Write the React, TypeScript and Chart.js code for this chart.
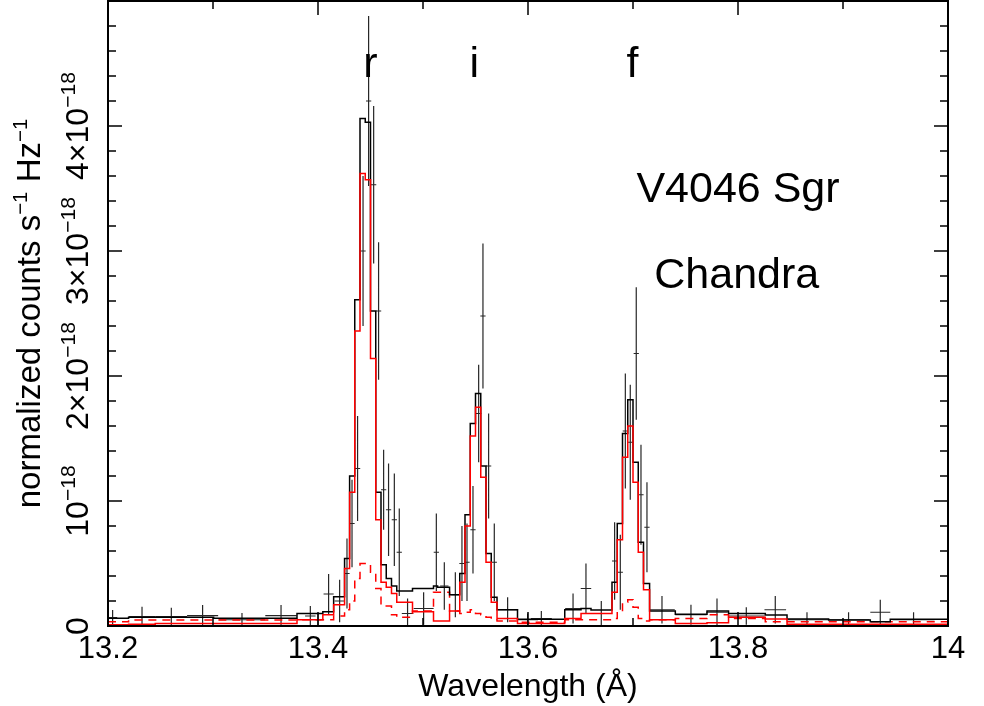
import React, { useEffect, useRef } from "react";
import { Chart, registerables } from "chart.js";
Chart.register(...registerables);

const FONT = "'Liberation Sans', Arial, Helvetica, sans-serif";

// axis ranges (flux in units of 1e-18)
const X_MIN = 13.2;
const X_MAX = 14.0;
const Y_MIN = 0;
const Y_MAX = 5;
const X_MAJOR_TICKS = [13.2, 13.4, 13.6, 13.8, 14.0];
const X_TICK_LABELS = ["13.2", "13.4", "13.6", "13.8", "14"];
const X_MINOR_TICKS = [13.3, 13.5, 13.7, 13.9];
const Y_MAJOR_TICKS = [0, 1, 2, 3, 4, 5];
const Y_MINOR_STEP = 0.2;
const Y_LABEL_VALUES = [0, 1, 2, 3, 4];
const Y_LABEL_BASES = ["0", "10", "2×10", "3×10", "4×10"];
const Y_LABEL_EXPS = ["", "−18", "−18", "−18", "−18"];
const X_TITLE = "Wavelength (Å)";
const Y_TITLE_PARTS: [string, boolean][] = [
  ["normalized counts s", false],
  ["−1", true],
  [" Hz", false],
  ["−1", true],
];

// annotations: text, wavelength, flux (baseline position)
const NOTE_TEXTS = ["r", "i", "f", "V4046 Sgr", "Chandra"];
const NOTE_X = [13.4498, 13.5489, 13.6994, 13.8, 13.7988];
const NOTE_Y = [4.392, 4.392, 4.392, 3.392, 2.704];

// model histogram bin edges (Å)
const BIN_EDGES = [
  13.2, 13.2196, 13.245, 13.3006, 13.38, 13.4046, 13.4149, 13.4253, 13.4301, 13.435,
  13.44, 13.445, 13.45, 13.455, 13.46, 13.465, 13.47, 13.475, 13.49, 13.51,
  13.5139, 13.5253, 13.535, 13.54, 13.545, 13.55, 13.555, 13.56, 13.565, 13.5705,
  13.59, 13.635, 13.6505, 13.66, 13.68, 13.685, 13.69, 13.695, 13.7, 13.705,
  13.71, 13.7158, 13.7403, 13.7705, 13.791, 13.826, 13.8467, 13.8863, 13.926, 13.945,
  13.9905, 14.0,
];

// total model (black)
const MODEL_TOTAL = [
  0.062, 0.07, 0.07, 0.062, 0.1, 0.115, 0.234, 0.54, 1.2, 2.61,
  4.06, 4.03, 2.52, 1.07, 0.49, 0.38, 0.32, 0.28, 0.3, 0.32,
  0.31, 0.25, 0.42, 0.89, 1.62, 1.86, 1.28, 0.58, 0.23, 0.13,
  0.054, 0.13, 0.14, 0.128, 0.35, 0.82, 1.54, 1.81, 1.31, 0.67,
  0.34, 0.12, 0.094, 0.12, 0.1, 0.088, 0.056, 0.048, 0.035, 0.054,
  0.054,
];

// red solid model
const MODEL_RED = [
  0.01, 0.015, 0.02, 0.02, 0.05, 0.09, 0.17, 0.46, 1.07, 2.36,
  3.62, 3.57, 2.14, 0.85, 0.35, 0.31, 0.26, 0.19, 0.115, 0.04,
  0.04, 0.12, 0.35, 0.8, 1.52, 1.75, 1.19, 0.51, 0.19, 0.06,
  0.02, 0.06, 0.1, 0.1, 0.27, 0.69, 1.35, 1.6, 1.15, 0.59,
  0.29, 0.05, 0.02, 0.026, 0.07, 0.056, 0.014, 0.014, 0.014, 0.014,
  0.014,
];

// red dashed model component
const MODEL_DASHED = [
  0.035, 0.048, 0.048, 0.048, 0.05, 0.05, 0.08, 0.13, 0.2, 0.38,
  0.5, 0.5, 0.43, 0.3, 0.17, 0.16, 0.09, 0.07, 0.12, 0.27,
  0.27, 0.12, 0.1, 0.11, 0.13, 0.1, 0.09, 0.07, 0.05, 0.04,
  0.03, 0.05, 0.05, 0.05, 0.06, 0.115, 0.19, 0.21, 0.15, 0.06,
  0.04, 0.05, 0.06, 0.09, 0.06, 0.035, 0.035, 0.035, 0.035, 0.035,
  0.035,
];

// data points
const DATA_WAVE = [
  13.2044, 13.2324, 13.2603, 13.2901, 13.3276, 13.3648, 13.3927, 13.4, 13.4101, 13.4206,
  13.4276, 13.4324, 13.4377, 13.4429, 13.4482, 13.453, 13.4577, 13.4625, 13.4672, 13.4727,
  13.4774, 13.4853, 13.5006, 13.5127, 13.5203, 13.5308, 13.5371, 13.5419, 13.5476, 13.553,
  13.5571, 13.5625, 13.5679, 13.5806, 13.5996, 13.6127, 13.6429, 13.6552, 13.6698, 13.6825,
  13.6879, 13.6927, 13.6974, 13.7031, 13.7076, 13.7133, 13.7276, 13.7552, 13.78, 13.8079,
  13.8355, 13.8657, 13.9053, 13.9355, 13.9672,
];
const DATA_FLUX = [
  0.068, 0.075, 0.076, 0.083, 0.05, 0.083, 0.08, 0.05, 0.256, 0.2,
  0.42, 0.82, 1.26, 3.0, 4.2, 3.53, 2.52, 1.09, 0.93, 0.85,
  0.59, 0.1, 0.14, 0.59, 0.32, 0.25, 0.5, 0.51, 0.77, 1.7,
  2.48, 1.28, 0.51, 0.13, 0.05, 0.06, 0.14, 0.3, 0.1, 0.52,
  0.43, 1.56, 1.47, 2.18, 1.05, 0.79, 0.13, 0.09, 0.11, 0.08,
  0.13, 0.05, 0.05, 0.11, 0.05,
];
const DATA_ERR = [
  0.06, 0.08, 0.07, 0.085, 0.055, 0.085, 0.08, 0.05, 0.16, 0.17,
  0.28, 0.35, 0.42, 0.6, 0.68, 0.63, 0.55, 0.32, 0.37, 0.37,
  0.35, 0.12, 0.13, 0.31, 0.19, 0.18, 0.3, 0.31, 0.35, 0.39,
  0.58, 0.42, 0.31, 0.1, 0.05, 0.06, 0.12, 0.2, 0.1, 0.31,
  0.3, 0.46, 0.46, 0.53, 0.4, 0.36, 0.11, 0.08, 0.11, 0.07,
  0.11, 0.06, 0.06, 0.1, 0.06,
];
const DATA_HALFWIDTH = [
  0.0044, 0.0127, 0.015, 0.0148, 0.022, 0.015, 0.005, 0.003, 0.0048, 0.0048,
  0.0025, 0.0025, 0.0025, 0.0025, 0.0025, 0.0025, 0.0025, 0.0025, 0.0025, 0.0025,
  0.0025, 0.0055, 0.0095, 0.0025, 0.004, 0.004, 0.0025, 0.0025, 0.0025, 0.0025,
  0.0025, 0.0025, 0.0025, 0.01, 0.01, 0.01, 0.0075, 0.005, 0.01, 0.0025,
  0.0025, 0.0025, 0.0025, 0.0025, 0.0025, 0.0025, 0.0122, 0.015, 0.0103, 0.0175,
  0.0103, 0.02, 0.02, 0.0095, 0.02,
];

function histPoints(edges: number[], vals: number[]) {
  const pts = vals.map((v, i) => ({ x: edges[i], y: v }));
  pts.push({ x: edges[edges.length - 1], y: vals[vals.length - 1] });
  return pts;
}

function errorBarPoints() {
  const pts: { x: number; y: number | null }[] = [];
  DATA_WAVE.forEach((w, i) => {
    const f = DATA_FLUX[i];
    const e = DATA_ERR[i];
    const h = DATA_HALFWIDTH[i];
    pts.push({ x: w - h, y: f }, { x: w + h, y: f }, { x: w, y: null });
    pts.push({ x: w, y: f - e }, { x: w, y: f + e }, { x: w, y: null });
  });
  return pts;
}

function drawSupText(ctx: CanvasRenderingContext2D, parts: [string, boolean][], cx: number, cy: number, size: number, supRatio: number) {
  const supSize = size * supRatio;
  let total = 0;
  const widths = parts.map(([t, sup]) => {
    ctx.font = `${sup ? supSize : size}px ${FONT}`;
    const w = ctx.measureText(t).width;
    total += w;
    return w;
  });
  ctx.save();
  ctx.translate(cx, cy);
  ctx.rotate(-Math.PI / 2);
  ctx.textAlign = "left";
  ctx.textBaseline = "alphabetic";
  let xx = -total / 2;
  parts.forEach(([t, sup], i) => {
    ctx.font = `${sup ? supSize : size}px ${FONT}`;
    ctx.fillText(t, xx, sup ? -size * 0.4 : 0);
    xx += widths[i];
  });
  ctx.restore();
}

const framePlugin = {
  id: "frameAndLabels",
  afterDatasetsDraw(chart: any) {
    const { ctx, chartArea: a } = chart;
    const xs = chart.scales.x;
    const ys = chart.scales.y;
    ctx.save();
    ctx.strokeStyle = "#000";
    ctx.fillStyle = "#000";
    ctx.lineWidth = 2;
    ctx.strokeRect(a.left, a.top, a.right - a.left, a.bottom - a.top);
    ctx.lineWidth = 1.5;
    const MAJ = 14;
    const MIN = 8;
    ctx.beginPath();
    X_MAJOR_TICKS.forEach((v) => {
      const px = xs.getPixelForValue(v);
      ctx.moveTo(px, a.bottom); ctx.lineTo(px, a.bottom - MAJ);
      ctx.moveTo(px, a.top); ctx.lineTo(px, a.top + MAJ);
    });
    X_MINOR_TICKS.forEach((v) => {
      const px = xs.getPixelForValue(v);
      ctx.moveTo(px, a.bottom); ctx.lineTo(px, a.bottom - MIN);
      ctx.moveTo(px, a.top); ctx.lineTo(px, a.top + MIN);
    });
    const nMinor = Math.round((Y_MAX - Y_MIN) / Y_MINOR_STEP);
    for (let k = 0; k <= nMinor; k++) {
      const v = Y_MIN + k * Y_MINOR_STEP;
      const major = Y_MAJOR_TICKS.some((m) => Math.abs(m - v) < 1e-9);
      const len = major ? MAJ : MIN;
      const py = ys.getPixelForValue(v);
      ctx.moveTo(a.left, py); ctx.lineTo(a.left + len, py);
      ctx.moveTo(a.right, py); ctx.lineTo(a.right - len, py);
    }
    ctx.stroke();

    // y tick labels (rotated, with superscripts)
    Y_LABEL_VALUES.forEach((v, i) => {
      const py = ys.getPixelForValue(v);
      const parts: [string, boolean][] = [[Y_LABEL_BASES[i], false]];
      if (Y_LABEL_EXPS[i]) parts.push([Y_LABEL_EXPS[i], true]);
      drawSupText(ctx, parts, 88, py, 32, 0.66);
    });
    // y title
    drawSupText(ctx, Y_TITLE_PARTS, 40, (a.top + a.bottom) / 2, 33, 0.62);

    // annotations
    ctx.textAlign = "center";
    ctx.textBaseline = "alphabetic";
    ctx.font = `43px ${FONT}`;
    NOTE_TEXTS.forEach((t, i) => {
      ctx.fillText(t, xs.getPixelForValue(NOTE_X[i]), ys.getPixelForValue(NOTE_Y[i]));
    });
    ctx.restore();
  },
};

export default function App() {
  const ref = useRef<HTMLCanvasElement | null>(null);
  useEffect(() => {
    if (!ref.current) return;
    const chart = new Chart(ref.current, {
      type: "line",
      data: {
        datasets: [
          {
            label: "data",
            data: errorBarPoints(),
            borderColor: "rgba(0,0,0,0.85)",
            borderWidth: 1.2,
            pointRadius: 0,
            spanGaps: false,
            order: 4,
          },
          {
            label: "dashed component",
            data: histPoints(BIN_EDGES, MODEL_DASHED),
            stepped: true,
            borderColor: "#ff0000",
            borderWidth: 1.5,
            borderDash: [8, 6],
            pointRadius: 0,
            order: 3,
          },
          {
            label: "total model",
            data: histPoints(BIN_EDGES, MODEL_TOTAL),
            stepped: true,
            borderColor: "#000000",
            borderWidth: 1.5,
            pointRadius: 0,
            order: 2,
          },
          {
            label: "red model",
            data: histPoints(BIN_EDGES, MODEL_RED),
            stepped: true,
            borderColor: "#ff0000",
            borderWidth: 1.5,
            pointRadius: 0,
            order: 1,
          },
        ],
      },
      options: {
        animation: false,
        responsive: true,
        maintainAspectRatio: false,
        layout: { padding: { left: 108, right: 36, top: 1, bottom: 0 } },
        plugins: { legend: { display: false }, tooltip: { enabled: false } },
        scales: {
          x: {
            type: "linear",
            min: X_MIN,
            max: X_MAX,
            grid: { display: false, drawTicks: false },
            border: { display: false },
            afterBuildTicks: (s: any) => {
              s.ticks = X_MAJOR_TICKS.map((v) => ({ value: v }));
            },
            afterFit: (s: any) => {
              s.height = 80;
            },
            ticks: {
              padding: 5,
              color: "#000",
              maxRotation: 0,
              autoSkip: false,
              font: { family: FONT, size: 31 },
              callback: (_v: any, i: number) => X_TICK_LABELS[i],
            },
            title: {
              display: true,
              text: X_TITLE,
              color: "#000",
              font: { family: FONT, size: 32 },
              padding: { top: 0, bottom: 0 },
            },
          },
          y: {
            type: "linear",
            display: false,
            min: Y_MIN,
            max: Y_MAX,
          },
        },
      },
      plugins: [framePlugin],
    });
    return () => chart.destroy();
  }, []);
  return (
    <div style={{ position: "absolute", left: 0, top: 0, width: 984, height: 706, background: "#fff" }}>
      <canvas ref={ref} />
    </div>
  );
}
